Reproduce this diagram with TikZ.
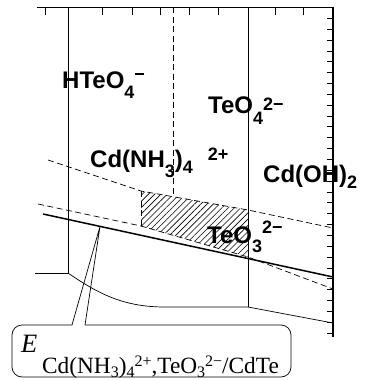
\documentclass[tikz,border=0pt]{standalone}
\usepackage{fontspec}
\setmainfont{Liberation Serif}
\newfontfamily\hv{Liberation Sans}
\usetikzlibrary{patterns.meta}
\newcommand\dn[2]{\raisebox{-#2pt}{\fontsize{18}{18}\selectfont #1}}
\newcommand\up[2]{\raisebox{#2pt}{\fontsize{18}{18}\selectfont #1}}
\newcommand\lo[1]{\raisebox{-4pt}{\fontsize{16}{16}\selectfont #1}}
\newcommand\hi[1]{\raisebox{6.5pt}{\fontsize{16}{16}\selectfont #1}}
\begin{document}
\begin{tikzpicture}[x=1pt,y=-1pt,
  thinline/.style={line width=0.7pt},
  dashline/.style={line width=0.7pt, dash pattern=on 6pt off 3.5pt},
  lbl/.style={anchor=base west, inner sep=0pt, font=\hv\bfseries\fontsize{24}{24}\selectfont},
  lab/.style={anchor=base west, inner sep=0pt}]
\useasboundingbox (0,0) rectangle (371,380);
% coordinates
\coordinate (tl) at (37,7);
\coordinate (tr) at (333,7);
\coordinate (br) at (333,337);
\coordinate (v1t) at (68,7);
\coordinate (v1b) at (68,273);
\coordinate (hl) at (35,273);
\coordinate (v3t) at (248,7);
\coordinate (v3b) at (248,307);
\coordinate (rb) at (333,323);
\coordinate (v2t) at (173,7);
\coordinate (v2b) at (173,196.7);
\coordinate (u0) at (48,160);
\coordinate (u1) at (141,191);
\coordinate (u2) at (248,210);
\coordinate (u3) at (333,228);
\coordinate (l0) at (38,204);
\coordinate (l1) at (141,226);
\coordinate (l2) at (248,257);
\coordinate (l3) at (333,289);
\coordinate (s0) at (43,214);
\coordinate (s1) at (333,277);
\coordinate (apex) at (100,226.4);
\coordinate (gL) at (72,325);
\coordinate (gR) at (85,325);
% hatch
\fill[pattern={Lines[angle=45,distance=4.4pt,line width=0.6pt]}] (u1) -- (u2) -- (l2) -- (l1) -- cycle;
% axes
\draw[line width=0.9pt] (tl) -- (tr);
\draw[line width=1.4pt] (tr) -- (br);
\foreach \x in {45,102,132,160,189,218,275,303} \draw[thinline] (\x,7) -- (\x,15);
\foreach \k in {0,...,29} \draw[thinline] (333,18.3+10.85*\k) -- ++(-6,0);
% region boundaries
\draw[thinline] (v1t) -- (v1b) -- (hl);
\draw[thinline] (v1b) .. controls (100,295) and (125,307) .. (165,307) -- (v3b) -- (rb);
\draw[thinline] (v3t) -- (v3b);
\draw[dashline] (v2t) -- (v2b);
\draw[dashline] (u0) -- (u1) -- (u2) -- (u3);
\draw[dashline] (l0) -- (l1) -- (l2) -- (l3);
\draw[dashline] (u1) -- (l1);
\draw[line width=1.5pt] (s0) -- (s1);
% labels
\node[lbl] (hteo4) at (62,88) {HTeO\dn{4}{10}\up{−}{8}};
\node[lbl] (teo4) at (208,113) {TeO\dn{4}{11}\up{2−}{3}};
\node[lbl] (cdnh) at (90,167) {Cd(NH\dn{3}{10})\dn{4}{6}\hspace{15pt}\up{2+}{7}};
\node[lbl] (cdoh) at (263,182) {Cd(OH)\dn{2}{6}};
\node[lbl] (teo3) at (207,243) {TeO\dn{3}{9}\up{2−}{10}};
% callout
\draw[thinline, rounded corners=10pt] (gL) -- (12,325) -- (12,377) -- (291,377) -- (291,325) -- (gR);
\draw[thinline] (gL) -- (apex) -- (gR);
\node[lab] (E) at (21,352) {\fontsize{26.5}{26.5}\selectfont\itshape E};
\node[lab] (Esub) at (42,373) {\fontsize{23.3}{23.3}\selectfont Cd(NH\lo{3})\lo{4}\hi{2+},TeO\lo{3}\hi{2−}/CdTe};
\end{tikzpicture}
\end{document}
